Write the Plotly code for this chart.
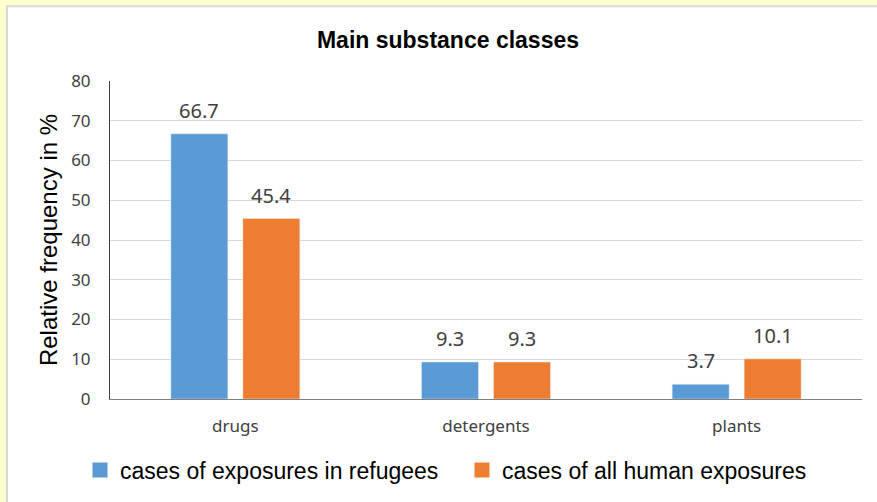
import plotly.graph_objects as go

categories = ["drugs", "detergents", "plants"]
refugees = [66.7, 9.3, 3.7]
all_human = [45.4, 9.3, 10.1]
series_names = ["cases of exposures in refugees", "cases of all human exposures"]
y_ticks = [0, 10, 20, 30, 40, 50, 60, 70, 80]

W, H = 877, 502
ml, mr, mt, mb = 110, 15, 81, 102
pw, ph = W - ml - mr, H - mt - mb

def px_x(x):
    return (x - ml) / pw

def px_y(y):
    return (H - mb - y) / ph

blue = "#5B9BD5"
orange = "#ED7D31"
tick_font = dict(family="Noto Sans, Open Sans, sans-serif", size=17, color="#404040")
label_font = dict(family="Noto Sans, Open Sans, sans-serif", size=20, color="#404040")
arial = "Liberation Sans, Arial, sans-serif"

fig = go.Figure()
fig.add_trace(go.Bar(x=categories, y=refugees, name=series_names[0], marker_color=blue, showlegend=False))
fig.add_trace(go.Bar(x=categories, y=all_human, name=series_names[1], marker_color=orange, showlegend=False))
# legend entries with larger square swatches
for name, col in zip(series_names, (blue, orange)):
    fig.add_trace(go.Scatter(x=[None], y=[None], mode="markers", name=name,
                             marker=dict(symbol="square", size=15, color=col)))

for vals, shift in ((refugees, -36), (all_human, 36)):
    for c, v in zip(categories, vals):
        fig.add_annotation(x=c, y=v, text=f"{v:.1f}", showarrow=False, xshift=shift,
                           yanchor="bottom", yshift=8, font=label_font)

# frame: pale yellow border top/left, white chart area
fig.add_shape(type="rect", xref="paper", yref="paper", layer="below",
              x0=px_x(7), x1=px_x(W + 5), y0=px_y(6), y1=px_y(H + 5),
              fillcolor="white", line=dict(color="#D9D9D9", width=2))

fig.update_layout(
    width=W, height=H,
    margin=dict(l=ml, r=mr, t=mt, b=mb),
    paper_bgcolor="#FFFFCC", plot_bgcolor="rgba(0,0,0,0)",
    barmode="group", bargap=0.4256, bargroupgap=0.208,
    title=dict(text="<b>Main substance classes</b>", xref="container", x=448 / W, xanchor="center",
               yref="container", y=1 - 40 / H, yanchor="middle",
               font=dict(family=arial, size=23, color="#000000")),
    xaxis=dict(showline=True, linecolor="#7F7F7F", linewidth=1, ticks="",
               tickfont=tick_font, ticklabelstandoff=12),
    yaxis=dict(range=[0, 80], tickvals=y_ticks, showgrid=True, gridcolor="#D9D9D9",
               showline=True, linecolor="#404040", linewidth=1, ticks="",
               tickfont=tick_font, ticklabelstandoff=15, zeroline=False,
               title=dict(text="Relative frequency in %", standoff=6,
                          font=dict(family=arial, size=24, color="#000000"))),
    legend=dict(orientation="h", x=px_x(80), xanchor="left", y=px_y(470), yanchor="middle",
                font=dict(family=arial, size=23, color="#000000"),
                bgcolor="rgba(0,0,0,0)", itemwidth=30, tracegroupgap=0,
                entrywidth=337, itemsizing="trace"),
    showlegend=True,
)

fig.write_html("out.html", config={"displayModeBar": False},
               post_script="document.body.style.margin='0px';")
